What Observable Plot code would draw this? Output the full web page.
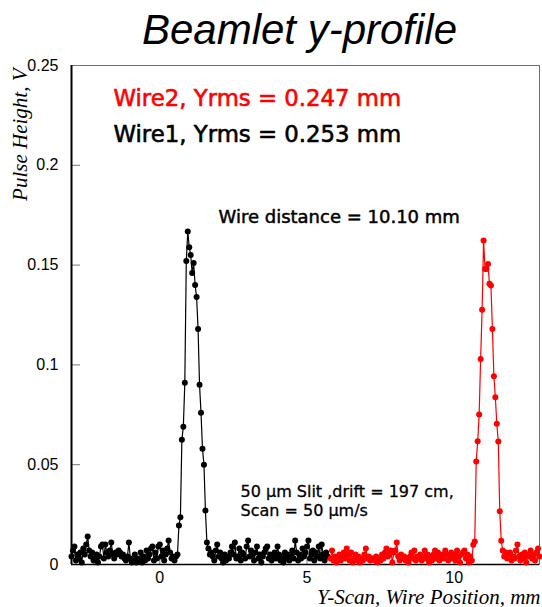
<!DOCTYPE html>
<html>
<head>
<meta charset="utf-8">
<script src="https://cdn.jsdelivr.net/npm/d3@7"></script>
<script src="https://cdn.jsdelivr.net/npm/@observablehq/plot@0.6"></script>
<style>
  html, body { margin: 0; padding: 0; background: #fff; }
</style>
</head>
<body>
<div id="chart"></div>
<script>
// ---- Data (pulse heights in mV) ----
const scanStep = 0.05;           // mm between scan points
const wire1Start = -3.0;         // mm, first Wire1 point
const wire2Start = 5.8;          // mm, first Wire2 point

const wire1_mV = [
  4,7,9,2,5,3,6,1,8,5,10,14,7,4,6,2,3,5,1,4,
  9,10,3,10,6,4,7,11,5,3,6,5,7,6,4,5,3,2,4,11,
  3,1,2,5,1,3,2,6,1,4,2,7,3,5,8,9,2,6,3,9,
  10,4,7,2,5,8,12,6,3,4,2,4,5,
  19.5,23.7,62.5,69,91,152,166.8,159,155,146,151,140,134,118,90,76,58,50,27,11,
  8,5,6,4,2,7,10,4,6,3,1,5,2,4,3,6,9,5,11,3,
  4,8,2,6,5,3,9,12,4,7,5,2,6,9,3,5,1,4,6,8,
  9,3,5,2,4,6,3,9,5,2,4,1,6,3,5,2,4,7,3,12,
  6,2,5,3,8,4,6,9,12,3,5,7,2,6,4,9,3,10,5,2,
  6,4
];

const wire2_mV = [
  3,7,2,4,1,3,5,2,4,6,3,8,5,2,6,1,3,5,2,4,
  1,3,2,5,8,3,4,2,3,3,2,4,1,3,2,5,3,6,8,4,
  5,7,1,6,7,11,4,2,5,3,4,2,3,1,4,6,3,7,2,4,
  3,5,2,4,7,3,5,1,4,2,5,7,3,6,2,4,5,3,7,5,
  2,4,6,3,5,2,7,4,1,5,6,7,3,5,1,4,2,
  9.9,11.5,51.6,61.8,75.2,103,127.6,162.3,148,148,150.6,140.6,139.8,118,94.3,83.8,70.5,61.6,26.7,11.9,
  7,4,6,3,5,6,2,4,3,7,10,4,2,5,3,6,1,4,5,7,3,5,2,6,8,4
];

const xDomain = [-3, 12.9];
const yDomain = [0, 0.25];
const xTicks = [0, 5, 10];
const yTicks = [0, 0.05, 0.1, 0.15, 0.2, 0.25];

const titleText = "Beamlet y-profile";
const yLabel = "Pulse Height, V";
const xLabel = "Y-Scan, Wire Position, mm";
const wire2Label = "Wire2, Yrms = 0.247 mm";
const wire1Label = "Wire1, Yrms = 0.253 mm";
const distanceLabel = "Wire distance = 10.10 mm";
const noteLines = ["50 \u03BCm Slit ,drift = 197 cm,", "Scan = 50 \u03BCm/s"];

// ---- Build tables ----
const wire1 = wire1_mV.map((v, i) => ({x: wire1Start + i * scanStep, y: v / 1000}));
const wire2 = wire2_mV.map((v, i) => ({x: wire2Start + i * scanStep, y: v / 1000}));

const annoFont = "DejaVu Sans, Verdana, sans-serif";
const serifItalic = "Liberation Serif, Times New Roman, serif";

const W = 542, H = 607;
const mL = 71, mR = 3, mT = 65, mB = 43;
const innerW = W - mL - mR, innerH = H - mT - mB;

const chart = Plot.plot({
  width: W,
  height: H,
  marginLeft: mL,
  marginRight: mR,
  marginTop: mT,
  marginBottom: mB,
  style: {fontFamily: "Liberation Sans, Arial, sans-serif", fontSize: "16px", background: "#fff", color: "#000"},
  x: {domain: xDomain, axis: null},
  y: {domain: yDomain, axis: null},
  marks: [
    Plot.frame({stroke: "#6e6e6e", strokeWidth: 1}),
    // inward ticks
    Plot.tickY(yTicks, {y: d => d, stroke: "#777", strokeWidth: 1, insetRight: innerW - 9}),
    Plot.tickX(xTicks, {x: d => d, stroke: "#777", strokeWidth: 1, insetTop: innerH - 9}),
    // axes lines
    Plot.ruleX([xDomain[0]], {stroke: "#000", strokeWidth: 2}),
    Plot.ruleY([yDomain[0]], {stroke: "#000", strokeWidth: 1.5}),
    Plot.axisY(yTicks, {tickSize: 0, tickPadding: 13, tickFormat: d => String(d), label: null, fontSize: 16}),
    Plot.axisX(xTicks, {tickSize: 0, tickPadding: 7, tickFormat: d => String(d), label: null, fontSize: 16}),
    // data
    Plot.line(wire1, {x: "x", y: "y", stroke: "#000", strokeWidth: 1.2}),
    Plot.dot(wire1, {x: "x", y: "y", fill: "#000", r: 3}),
    Plot.line(wire2, {x: "x", y: "y", stroke: "#ff0000", strokeWidth: 1.2}),
    Plot.dot(wire2, {x: "x", y: "y", fill: "#ff0000", r: 3}),
    // title & axis labels
    Plot.text([titleText], {frameAnchor: "top", dx: -6, dy: -22, lineAnchor: "bottom",
      fontFamily: "Liberation Sans, Arial, sans-serif", fontStyle: "italic", fontSize: 42, fill: "#000"}),
    Plot.text([yLabel], {frameAnchor: "top-left", rotate: -90, textAnchor: "end", lineAnchor: "bottom",
      dx: -45, dy: 3, fontFamily: serifItalic, fontStyle: "italic", fontSize: 21, fill: "#000"}),
    Plot.text([xLabel], {frameAnchor: "bottom-right", textAnchor: "end", lineAnchor: "bottom",
      dx: 1, dy: 39, fontFamily: serifItalic, fontStyle: "italic", fontSize: 21, fill: "#000"}),
    // annotations
    Plot.text([wire2Label], {frameAnchor: "top-left", textAnchor: "start", lineAnchor: "middle",
      dx: 42, dy: 33, fontFamily: annoFont, fontSize: 22.8, fill: "#ff0000", stroke: "#ff0000", strokeWidth: 0.6}),
    Plot.text([wire1Label], {frameAnchor: "top-left", textAnchor: "start", lineAnchor: "middle",
      dx: 42, dy: 69, fontFamily: annoFont, fontSize: 22.8, fill: "#000", stroke: "#000", strokeWidth: 0.6}),
    Plot.text([distanceLabel], {frameAnchor: "top-left", textAnchor: "start", lineAnchor: "middle",
      dx: 147, dy: 152, fontFamily: annoFont, fontSize: 18, fill: "#000", stroke: "#000", strokeWidth: 0.5}),
    Plot.text([noteLines.join("\n")], {frameAnchor: "top-left", textAnchor: "start", lineAnchor: "middle",
      dx: 169, dy: 435, lineHeight: 1.19, fontFamily: annoFont, fontSize: 16, fill: "#000", stroke: "#000", strokeWidth: 0.3})
  ]
});

document.getElementById("chart").appendChild(chart);
</script>
</body>
</html>
